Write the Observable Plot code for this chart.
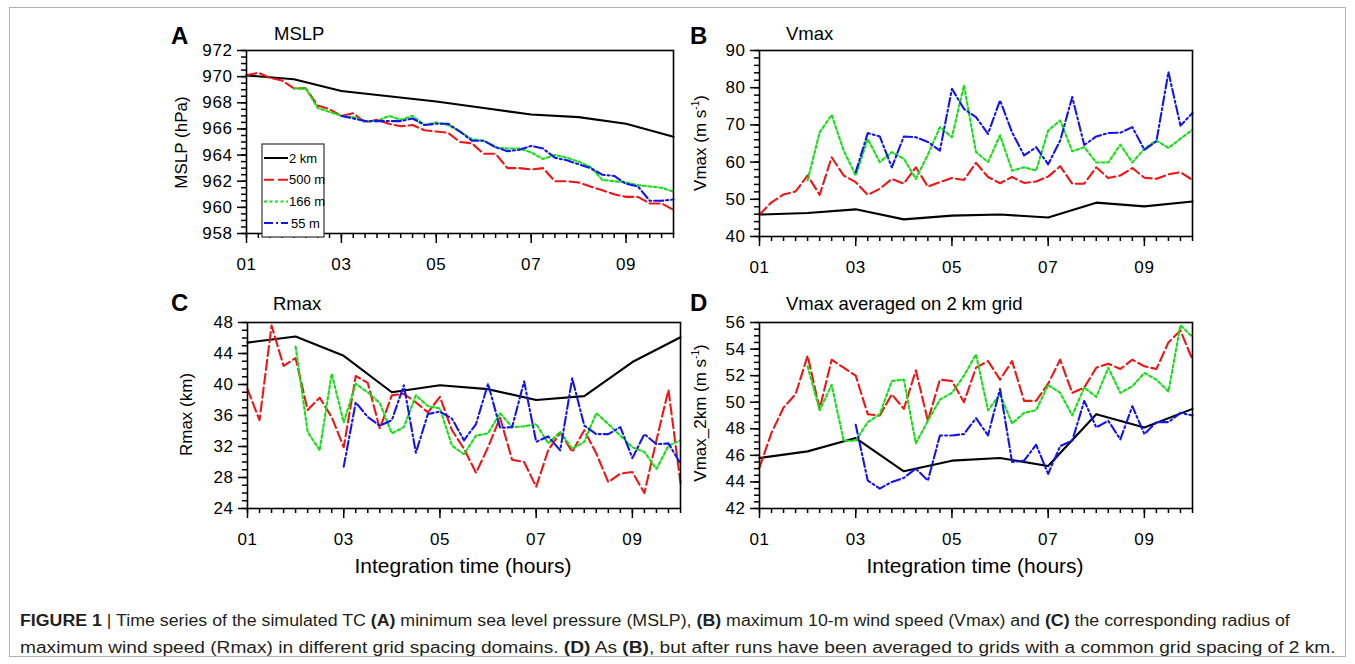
<!DOCTYPE html>
<html><head><meta charset="utf-8">
<script src="https://cdn.jsdelivr.net/npm/d3@7"></script>
<script src="https://cdn.jsdelivr.net/npm/@observablehq/plot@0.6"></script>
<style>
html,body{margin:0;padding:0;background:#fff;}
#fig{position:relative;width:1355px;height:664px;overflow:hidden;font-family:"Liberation Sans",Arial,Helvetica,sans-serif;color:#000;}
.abs{position:absolute;white-space:nowrap;line-height:1;}
.border{position:absolute;left:9px;top:7px;width:1337px;height:650px;border:1px solid #b0b0b0;box-sizing:border-box;}
.cap{position:absolute;left:20px;font-size:16px;white-space:nowrap;color:#231f20;transform-origin:0 50%;line-height:1;}
</style></head><body><div id="fig"><div class="border"></div></div>
<script>
// ---------- data ----------
const seriesNames = ["2 km", "500 m", "166 m", "55 m"];
const seriesColors = ["#000000", "#f01414", "#14e014", "#1414f0"];
const seriesDash = [null, "10,4", "3,2.5", "9,3,2,3"];

const xTickHours = [1, 3, 5, 7, 9];
const xTickLabels = ["01", "03", "05", "07", "09"];

const tCoarse = [1, 2, 3, 4, 5, 6, 7, 8, 9, 10];
const t500 = [1,1.25,1.5,1.75,2,2.25,2.5,2.75,3,3.25,3.5,3.75,4,4.25,4.5,4.75,5,5.25,5.5,5.75,6,6.25,6.5,6.75,7,7.25,7.5,7.75,8,8.25,8.5,8.75,9,9.25,9.5,9.75,10];
const t166 = t500.slice(4);   // starts at hour 02
const t55 = t500.slice(8);    // starts at hour 03

// (A) MSLP (hPa)
const mslp2km = [970.1, 969.8, 968.9, 968.5, 968.1, 967.6, 967.1, 966.9, 966.4, 965.4];
const mslp500 = [970.1, 970.3, 969.9, 969.7, 969.1, 969.1, 967.8, 967.5, 967.0, 967.2, 966.5, 966.7, 966.4, 966.2, 966.3, 965.9, 965.8, 965.7, 965.0, 964.9, 964.1, 964.1, 963.0, 963.0, 962.9, 963.0, 962.0, 962.0, 961.9, 961.6, 961.3, 961.0, 960.8, 960.8, 960.3, 960.3, 959.8];
const mslp166 = [969.1, 969.1, 967.6, 967.3, 967.0, 966.9, 966.6, 966.6, 967.0, 966.7, 967.0, 966.3, 966.5, 966.3, 965.8, 965.2, 965.1, 964.6, 964.5, 964.5, 964.2, 963.7, 964.0, 963.8, 963.5, 963.1, 962.1, 962.0, 961.9, 961.7, 961.6, 961.5, 961.2];
const mslp55 = [967.0, 966.8, 966.6, 966.6, 966.6, 966.6, 966.8, 966.3, 966.4, 966.4, 965.8, 965.1, 965.1, 964.6, 964.3, 964.4, 964.7, 964.5, 963.8, 963.6, 963.3, 963.0, 962.5, 962.4, 961.8, 961.6, 960.5, 960.5, 960.6];

// (B) Vmax (m/s)
const vmax2km = [45.9, 46.3, 47.3, 44.6, 45.6, 45.9, 45.1, 49.1, 48.1, 49.4];
const vmax500 = [45.9, 49.2, 51.3, 52.1, 56.4, 51.2, 61.3, 56.4, 54.6, 51.2, 52.8, 55.5, 54.2, 58.6, 53.4, 54.6, 55.7, 55.2, 59.8, 56.0, 54.3, 56.0, 54.4, 54.8, 56.1, 58.9, 54.2, 54.2, 58.6, 55.7, 56.4, 58.4, 55.8, 55.5, 56.7, 57.3, 55.2];
const vmax166 = [55.1, 68.0, 72.7, 63.1, 56.4, 66.2, 60.0, 62.7, 60.9, 55.5, 62.0, 69.4, 66.7, 80.6, 62.7, 60.0, 67.2, 57.7, 58.6, 57.7, 68.5, 71.2, 62.9, 64.0, 59.9, 59.9, 64.7, 59.9, 63.6, 65.8, 63.8, 66.3, 68.7];
const vmax55 = [57.3, 67.8, 66.9, 58.6, 66.9, 66.7, 65.4, 63.1, 79.7, 74.3, 72.1, 67.6, 76.6, 68.0, 61.8, 64.0, 59.4, 65.8, 77.5, 64.6, 66.9, 67.8, 67.9, 69.4, 63.3, 65.6, 84.2, 69.8, 73.2];

// (C) Rmax (km)
const rmax2km = [45.4, 46.2, 43.7, 39.0, 39.9, 39.4, 38.0, 38.5, 42.9, 46.1];
const rmax500 = [39.4, 35.4, 47.6, 42.4, 43.4, 36.7, 38.3, 35.8, 31.9, 41.1, 40.2, 34.3, 38.6, 38.8, 37.7, 36.4, 38.4, 34.1, 31.7, 28.6, 31.9, 35.7, 30.3, 30.0, 26.8, 31.5, 33.8, 31.3, 34.1, 31.1, 27.4, 28.5, 28.7, 26.0, 32.8, 39.3, 27.3];
const rmax166 = [44.9, 33.9, 31.5, 41.4, 35.1, 40.1, 39.0, 37.6, 33.7, 34.5, 38.6, 37.2, 36.9, 32.1, 31.0, 33.4, 33.7, 36.3, 34.5, 34.6, 34.9, 32.4, 33.9, 31.7, 32.6, 36.3, 34.9, 33.4, 31.9, 31.3, 29.1, 32.1, 32.8];
const rmax55 = [29.4, 37.7, 35.8, 34.7, 35.4, 39.9, 31.2, 36.2, 36.5, 35.6, 32.8, 34.9, 40.1, 34.4, 34.5, 40.4, 32.6, 33.3, 31.5, 40.8, 34.7, 33.6, 33.6, 34.5, 30.5, 33.6, 32.3, 32.4, 29.8];

// (D) Vmax averaged on 2 km grid (m/s)
const v2k2km = [45.8, 46.3, 47.3, 44.8, 45.6, 45.8, 45.2, 49.1, 48.1, 49.5];
const v2k500 = [45.1, 47.7, 49.6, 50.6, 53.5, 49.5, 53.2, 52.6, 52.0, 49.1, 49.0, 50.6, 49.5, 52.4, 48.6, 51.7, 51.6, 50.0, 52.6, 53.1, 51.7, 53.1, 50.1, 50.1, 51.4, 53.2, 50.7, 51.1, 52.6, 52.9, 52.5, 53.2, 52.7, 52.5, 54.5, 55.4, 53.2];
const v2k166 = [52.7, 49.4, 51.3, 47.1, 47.1, 48.5, 49.1, 51.6, 51.7, 46.9, 48.6, 50.2, 50.7, 52.0, 53.6, 49.4, 50.6, 48.4, 49.2, 49.4, 51.3, 50.7, 49.0, 51.1, 50.4, 52.6, 50.7, 51.2, 52.2, 51.7, 50.8, 55.8, 54.9];
const v2k55 = [48.3, 44.1, 43.5, 44.0, 44.3, 45.0, 44.1, 47.5, 47.5, 47.6, 48.8, 47.5, 51.0, 45.5, 45.6, 46.8, 44.6, 46.7, 47.1, 50.1, 48.1, 48.6, 47.2, 49.7, 47.6, 48.5, 48.5, 49.2, 49.0];

// ---------- drawing ----------
const fig = document.getElementById("fig");
const FONT = '"Liberation Sans", Arial, Helvetica, sans-serif';
const xMinor = d3.range(1, 10.001, 0.25);

function toRows(times, values, name) {
  return times.map((t, i) => ({t, v: values[i], name}));
}

function addText(html, x, y, opts = {}) {
  const d = document.createElement("div");
  d.className = "abs";
  d.innerHTML = html;
  d.style.fontSize = (opts.size || 18) + "px";
  if (opts.bold) d.style.fontWeight = "bold";
  fig.appendChild(d);
  const w = d.offsetWidth, h = d.offsetHeight;
  if (opts.rotate) {
    d.style.left = (x - w / 2) + "px";
    d.style.top = (y - h / 2) + "px";
    d.style.transform = "rotate(-90deg)";
  } else {
    const ax = opts.anchor === "middle" ? w / 2 : 0;
    d.style.left = (x - ax) + "px";
    d.style.top = (y - h / 2) + "px";
  }
  return d;
}

function panel(cfg) {
  const {L, R, T, B, domainY, yMajor, yMinorStep, series} = cfg;
  const mL = 110, mR = 20, mT = 60, mB = 90;
  const width = (R - L) + mL + mR, height = (B - T) + mT + mB;
  const yMinor = d3.range(domainY[0], domainY[1] + 1e-9, yMinorStep);
  const marks = [];
  series.forEach((s, i) => {
    marks.push(Plot.line(toRows(s.t, s.v, seriesNames[i]), {
      x: "t", y: "v", stroke: seriesColors[i], strokeWidth: 2.1,
      strokeDasharray: seriesDash[i] || undefined, strokeLinejoin: "round"
    }));
  });
  marks.push(Plot.axisX(xMinor, {tickSize: 5, strokeWidth: 1.5, fill: "none", label: null}));
  marks.push(Plot.axisX(xTickHours, {tickSize: 10, strokeWidth: 1.5, tickPadding: 14, label: null,
    tickFormat: d => xTickLabels[xTickHours.indexOf(d)], fontSize: 17}));
  marks.push(Plot.axisY(yMinor, {tickSize: 5, strokeWidth: 1.5, fill: "none", label: null}));
  marks.push(Plot.axisY(yMajor, {tickSize: 9, strokeWidth: 1.5, tickPadding: 5, label: null, fontSize: 17}));
  marks.push(Plot.frame({stroke: "black", strokeWidth: 1.6}));
  const svg = Plot.plot({
    width, height, marginLeft: mL, marginRight: mR, marginTop: mT, marginBottom: mB,
    x: {domain: [1, 10], label: null},
    y: {domain: domainY, label: null},
    style: {fontFamily: FONT, fontSize: "17px", color: "black", background: "transparent", letterSpacing: "0.6px"},
    marks
  });
  svg.style.position = "absolute";
  svg.style.left = (L - mL) + "px";
  svg.style.top = (T - mT) + "px";
  svg.style.overflow = "visible";
  fig.appendChild(svg);
}

panel({L: 246, R: 673, T: 50, B: 233, domainY: [958, 972], yMajor: [958, 960, 962, 964, 966, 968, 970, 972], yMinorStep: 0.5,
  series: [{t: tCoarse, v: mslp2km}, {t: t500, v: mslp500}, {t: t166, v: mslp166}, {t: t55, v: mslp55}]});
panel({L: 759, R: 1192, T: 50, B: 236, domainY: [40, 90], yMajor: [40, 50, 60, 70, 80, 90], yMinorStep: 2,
  series: [{t: tCoarse, v: vmax2km}, {t: t500, v: vmax500}, {t: t166, v: vmax166}, {t: t55, v: vmax55}]});
panel({L: 247, R: 680, T: 322, B: 508, domainY: [24, 48], yMajor: [24, 28, 32, 36, 40, 44, 48], yMinorStep: 1,
  series: [{t: tCoarse, v: rmax2km}, {t: t500, v: rmax500}, {t: t166, v: rmax166}, {t: t55, v: rmax55}]});
panel({L: 759, R: 1192, T: 322, B: 508, domainY: [42, 56], yMajor: [42, 44, 46, 48, 50, 52, 54, 56], yMinorStep: 0.5,
  series: [{t: tCoarse, v: v2k2km}, {t: t500, v: v2k500}, {t: t166, v: v2k166}, {t: t55, v: v2k55}]});

// panel letters and titles
addText("A", 171, 36, {size: 24, bold: true});
addText("MSLP", 274, 34, {size: 18.5});
addText("B", 690, 36, {size: 24, bold: true});
addText("Vmax", 786, 34, {size: 18.5});
addText("C", 171, 303, {size: 24, bold: true});
addText("Rmax", 273, 304, {size: 18.5});
addText("D", 690, 303, {size: 24, bold: true});
addText("Vmax averaged on 2 km grid", 786, 304, {size: 18.5});

// axis titles
addText("MSLP (hPa)", 181, 142, {size: 17, rotate: true});
addText('Vmax (m s<sup style="font-size:10px;vertical-align:7px">-1</sup>)', 700, 143, {size: 17, rotate: true});
addText("Rmax (km)", 186, 414, {size: 17, rotate: true});
addText('Vmax_2km (m s<sup style="font-size:10px;vertical-align:7px">-1</sup>)', 699, 413, {size: 17, rotate: true});
addText("Integration time (hours)", 463, 565, {size: 21, anchor: "middle"});
addText("Integration time (hours)", 975, 565, {size: 21, anchor: "middle"});

// legend (panel A)
(function legend() {
  const ns = "http://www.w3.org/2000/svg";
  const svg = document.createElementNS(ns, "svg");
  svg.setAttribute("width", 64); svg.setAttribute("height", 95);
  svg.style.position = "absolute"; svg.style.left = "261px"; svg.style.top = "143px";
  const box = document.createElementNS(ns, "rect");
  box.setAttribute("x", 1); box.setAttribute("y", 1); box.setAttribute("width", 62); box.setAttribute("height", 93);
  box.setAttribute("fill", "white"); box.setAttribute("stroke", "#333"); box.setAttribute("stroke-width", 1.2);
  svg.appendChild(box);
  seriesNames.forEach((n, i) => {
    const y = 15 + i * 21.7;
    const ln = document.createElementNS(ns, "line");
    ln.setAttribute("x1", 3); ln.setAttribute("x2", 27); ln.setAttribute("y1", y); ln.setAttribute("y2", y);
    ln.setAttribute("stroke", seriesColors[i]); ln.setAttribute("stroke-width", 2);
    if (seriesDash[i]) ln.setAttribute("stroke-dasharray", seriesDash[i]);
    svg.appendChild(ln);
    const tx = document.createElementNS(ns, "text");
    tx.setAttribute("x", i === 3 ? 30 : 28); tx.setAttribute("y", y); tx.setAttribute("dy", "0.35em");
    tx.setAttribute("font-size", 13); tx.setAttribute("font-family", FONT);
    tx.textContent = n;
    svg.appendChild(tx);
  });
  fig.appendChild(svg);
})();

// caption
const capLines = [
  '<b>FIGURE 1</b> | Time series of the simulated TC <b>(A)</b> minimum sea level pressure (MSLP), <b>(B)</b> maximum 10-m wind speed (Vmax) and <b>(C)</b> the corresponding radius of',
  'maximum wind speed (Rmax) in different grid spacing domains. <b>(D)</b> As <b>(B)</b>, but after runs have been averaged to grids with a common grid spacing of 2 km.'
];
const capTargets = [[621, 1270], [648, 1316]];
capLines.forEach((html, i) => {
  const d = document.createElement("div");
  d.className = "cap";
  d.innerHTML = html;
  fig.appendChild(d);
  const w = d.offsetWidth, h = d.offsetHeight;
  d.style.top = (capTargets[i][0] - h / 2) + "px";
  d.style.transform = `scaleX(${capTargets[i][1] / w})`;
});
</script></body></html>
